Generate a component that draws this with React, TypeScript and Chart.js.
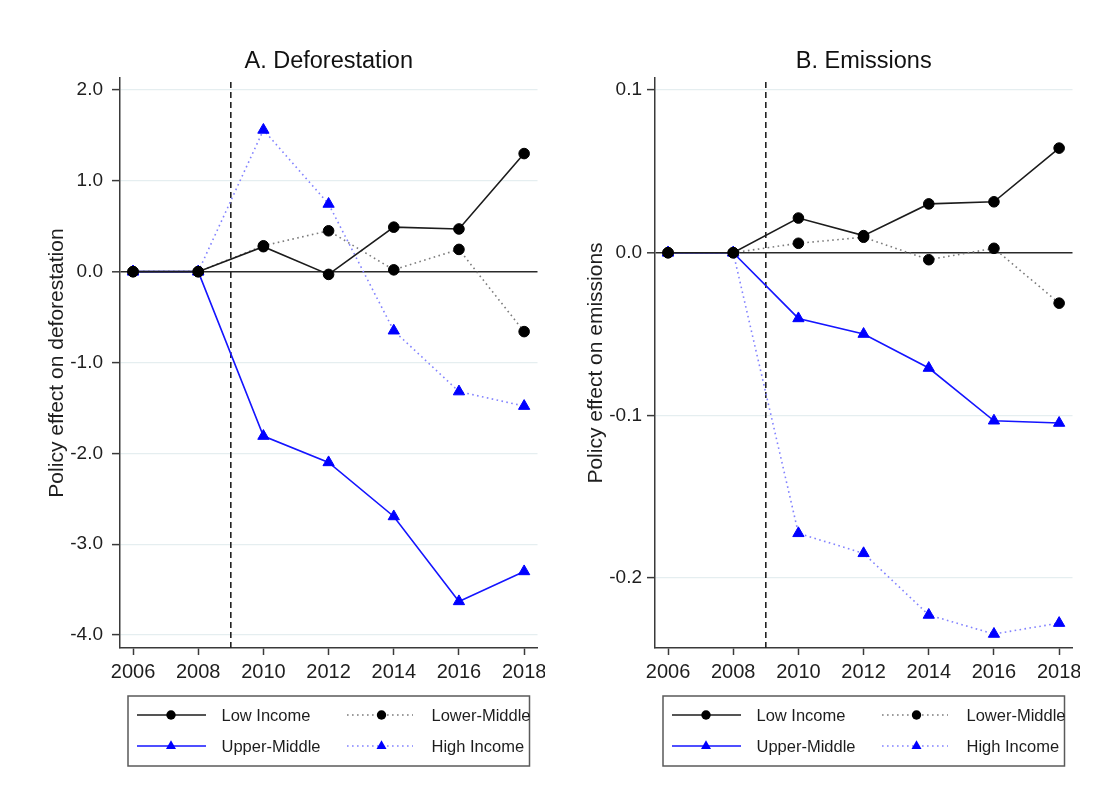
import React, { useEffect, useRef } from "react";
import { Chart, registerables } from "chart.js";

Chart.register(...registerables);

// ---- shared axis data ----
const YEARS = [2006, 2008, 2010, 2012, 2014, 2016, 2018];
const X_TICKS = [2006, 2008, 2010, 2012, 2014, 2016, 2018];
const POLICY_YEAR = 2009;
const SERIES_NAMES = ["Low Income", "Lower-Middle", "Upper-Middle", "High Income"];

// ---- A. Deforestation ----
const DEF_LOW = [0, 0, 0.275, -0.03, 0.49, 0.47, 1.3];
const DEF_LOWER_MID = [0, 0, 0.285, 0.45, 0.02, 0.245, -0.66];
const DEF_UPPER_MID = [0, 0, -1.81, -2.1, -2.695, -3.63, -3.3];
const DEF_HIGH = [0, 0, 1.56, 0.745, -0.65, -1.32, -1.48];
const DEF_TICKS = [-4, -3, -2, -1, 0, 1, 2];

// ---- B. Emissions ----
const EMI_LOW = [0, 0, 0.0213, 0.0105, 0.03, 0.0313, 0.0643];
const EMI_LOWER_MID = [0, 0, 0.0058, 0.0095, -0.0043, 0.0027, -0.031];
const EMI_UPPER_MID = [0, 0, -0.0404, -0.05, -0.0709, -0.1033, -0.1047];
const EMI_HIGH = [0, 0, -0.1725, -0.1848, -0.2227, -0.2344, -0.2277];
const EMI_TICKS = [-0.2, -0.1, 0, 0.1];

const FONT = '"Liberation Sans", Arial, Helvetica, sans-serif';
const INK = "#1e1e1e";
const AXIS = "#3a3a3a";
const GRID = "#e5eef0";

type SeriesStyle = {
  color: string;
  dash: number[];
  marker: "circle" | "triangle";
  markerColor: string;
  radius: number;
};

const STYLES: SeriesStyle[] = [
  { color: "#1c1c1c", dash: [], marker: "circle", markerColor: "#000000", radius: 5.3 },
  { color: "#7c7c7c", dash: [1.6, 3.4], marker: "circle", markerColor: "#000000", radius: 5.3 },
  { color: "#1515ff", dash: [], marker: "triangle", markerColor: "#0000ff", radius: 6.5 },
  { color: "#8282ff", dash: [1.6, 3.4], marker: "triangle", markerColor: "#0000ff", radius: 6.5 },
];

// Panel heading, centred over the plotting area.
const panelHeading = {
  id: "panelHeading",
  afterDraw(chart: any, _args: any, opts: any) {
    const { ctx, chartArea } = chart;
    ctx.save();
    ctx.fillStyle = "#111111";
    ctx.font = `23.5px ${FONT}`;
    ctx.textAlign = "center";
    ctx.textBaseline = "alphabetic";
    ctx.fillText(opts.text, (chartArea.left + chartArea.right) / 2, 67.5);
    ctx.restore();
  },
};

// Legend box drawn under the x axis, with a line sample + marker per series.
const incomeLegend = {
  id: "incomeLegend",
  afterDraw(chart: any) {
    const { ctx, chartArea } = chart;
    const left = chartArea.left + 8;
    const top = 696;
    const w = 401.5;
    const h = 70;
    ctx.save();
    ctx.strokeStyle = "#5a5a5a";
    ctx.lineWidth = 1.5;
    ctx.setLineDash([]);
    ctx.strokeRect(left, top, w, h);

    const rows = [top + 19, top + 50];
    const cols = [
      { x0: left + 9, x1: left + 78, m: left + 43, tx: left + 93.5 },
      { x0: left + 219, x1: left + 285, m: left + 253.5, tx: left + 303.5 },
    ];
    SERIES_NAMES.forEach((name, i) => {
      const st = STYLES[i];
      const c = cols[i % 2];
      const y = rows[Math.floor(i / 2)];
      ctx.beginPath();
      ctx.setLineDash(st.dash);
      ctx.strokeStyle = st.color;
      ctx.lineWidth = 1.6;
      ctx.moveTo(c.x0, y);
      ctx.lineTo(c.x1, y);
      ctx.stroke();
      ctx.setLineDash([]);
      ctx.fillStyle = st.markerColor;
      ctx.beginPath();
      if (st.marker === "circle") {
        ctx.arc(c.m, y, 4.7, 0, Math.PI * 2);
      } else {
        const r = 5.8;
        ctx.moveTo(c.m, y - r);
        ctx.lineTo(c.m + r * 0.866, y + r * 0.5);
        ctx.lineTo(c.m - r * 0.866, y + r * 0.5);
        ctx.closePath();
      }
      ctx.fill();
      ctx.fillStyle = INK;
      ctx.font = `16.5px ${FONT}`;
      ctx.textAlign = "left";
      ctx.textBaseline = "middle";
      ctx.fillText(name, c.tx, y + 1);
    });
    ctx.restore();
  },
};

type PanelProps = {
  left: number;
  title: string;
  yTitle: string;
  series: number[][];
  yTicks: number[];
  yMin: number;
  yMax: number;
  tickPad: number;
  titlePad: number;
};

function Panel({ left, title, yTitle, series, yTicks, yMin, yMax, tickPad, titlePad }: PanelProps) {
  const ref = useRef<HTMLCanvasElement | null>(null);

  useEffect(() => {
    if (!ref.current) return;
    const datasets: any[] = series.map((vals, i) => {
      const st = STYLES[i];
      return {
        label: SERIES_NAMES[i],
        data: YEARS.map((yr, k) => ({ x: yr, y: vals[k] })),
        borderColor: st.color,
        borderWidth: 1.6,
        borderDash: st.dash,
        pointStyle: st.marker,
        pointRadius: st.radius,
        pointBackgroundColor: st.markerColor,
        pointBorderColor: st.markerColor,
        pointBorderWidth: 1,
        tension: 0,
        fill: false,
      };
    });
    // Dashed reference line at the policy year, drawn beneath the series.
    datasets.push({
      label: "policy",
      data: [
        { x: POLICY_YEAR, y: yMin },
        { x: POLICY_YEAR, y: yMax },
      ],
      borderColor: "#222222",
      borderWidth: 1.6,
      borderDash: [6, 4],
      pointRadius: 0,
      fill: false,
    });

    const chart = new Chart(ref.current, {
      type: "line",
      data: { datasets },
      options: {
        animation: false,
        responsive: false,
        devicePixelRatio: 1,
        layout: { padding: { left: 41, right: 5, top: 78, bottom: 100 } },
        plugins: {
          legend: { display: false },
          tooltip: { enabled: false },
          title: { display: false },
          panelHeading: { text: title },
        } as any,
        scales: {
          x: {
            type: "linear",
            min: 2005.6,
            max: 2018.41,
            afterBuildTicks: (s: any) => {
              s.ticks = X_TICKS.map((v) => ({ value: v }));
            },
            afterFit: (s: any) => {
              s.height = 60;
              s.paddingLeft = 0;
              s.paddingRight = 0;
            },
            ticks: {
              callback: (v: any) => String(v),
              color: INK,
              font: { family: FONT, size: 20 },
              padding: 5,
              maxRotation: 0,
              autoSkip: false,
            },
            grid: {
              drawOnChartArea: false,
              drawTicks: true,
              tickLength: 7,
              tickColor: AXIS,
              tickWidth: 1.5,
            },
            border: { color: AXIS, width: 1.5 },
          },
          y: {
            type: "linear",
            min: yMin,
            max: yMax,
            afterBuildTicks: (s: any) => {
              s.ticks = yTicks.map((v) => ({ value: v }));
            },
            afterFit: (s: any) => {
              s.width = 79;
              s.paddingTop = 0;
              s.paddingBottom = 0;
            },
            ticks: {
              callback: (v: any) => Number(v).toFixed(1),
              color: INK,
              font: { family: FONT, size: 19 },
              padding: tickPad,
              autoSkip: false,
            },
            grid: {
              color: (c: any) => (c.tick && c.tick.value === 0 ? "#2a2a2a" : GRID),
              lineWidth: (c: any) => (c.tick && c.tick.value === 0 ? 1.6 : 1.2),
              drawTicks: true,
              tickLength: 8,
              tickColor: AXIS,
              tickWidth: 1.5,
            },
            border: { color: AXIS, width: 1.5 },
            title: {
              display: true,
              text: yTitle,
              color: INK,
              font: { family: FONT, size: 21 },
              padding: { top: titlePad, bottom: 0 },
            },
          },
        },
      },
      plugins: [panelHeading, incomeLegend],
    });
    return () => chart.destroy();
  }, [title, yTitle, series, yTicks, yMin, yMax, tickPad, titlePad]);

  return (
    <canvas
      ref={ref}
      width={545}
      height={808}
      style={{ position: "absolute", left, top: 0, width: 545, height: 808 }}
    />
  );
}

const DEF_SERIES = [DEF_LOW, DEF_LOWER_MID, DEF_UPPER_MID, DEF_HIGH];
const EMI_SERIES = [EMI_LOW, EMI_LOWER_MID, EMI_UPPER_MID, EMI_HIGH];

export default function App() {
  return (
    <div
      style={{
        position: "absolute",
        left: 0,
        top: 0,
        width: 1106,
        height: 808,
        background: "#ffffff",
        overflow: "hidden",
      }}
    >
      <Panel
        left={0}
        title="A. Deforestation"
        yTitle="Policy effect on deforestation"
        series={DEF_SERIES}
        yTicks={DEF_TICKS}
        yMin={-4.143}
        yMax={2.132}
        tickPad={9}
        titlePad={4}
      />
      <Panel
        left={535}
        title="B. Emissions"
        yTitle="Policy effect on emissions"
        series={EMI_SERIES}
        yTicks={EMI_TICKS}
        yMin={-0.243}
        yMax={0.1074}
        tickPad={5}
        titlePad={8}
      />
    </div>
  );
}
